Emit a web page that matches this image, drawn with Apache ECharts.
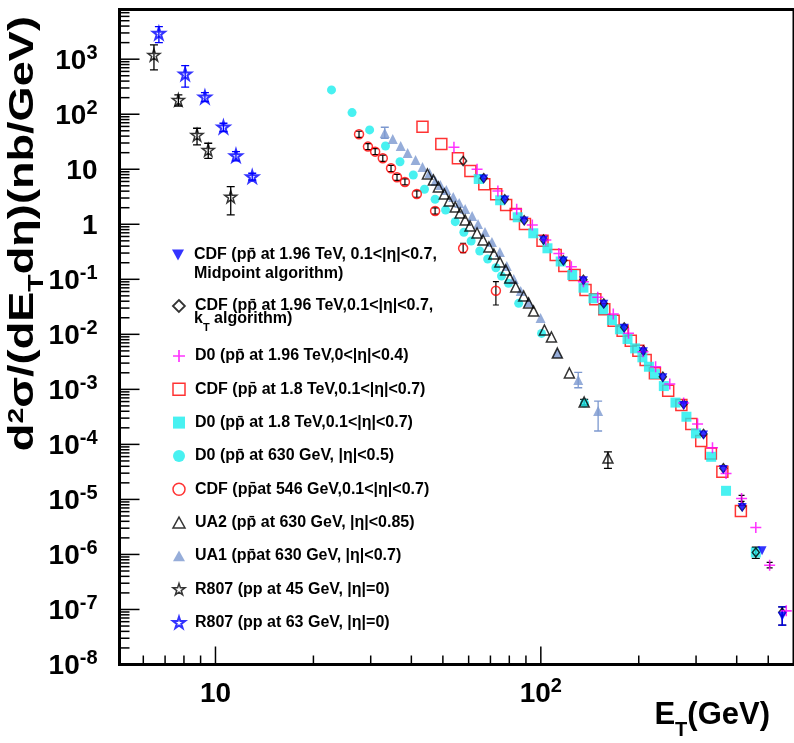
<!DOCTYPE html>
<html><head><meta charset="utf-8">
<script src="https://cdn.jsdelivr.net/npm/echarts@6/dist/echarts.min.js"></script>
<style>html,body{margin:0;padding:0;background:#fff}#c{width:794px;height:743px}</style>
</head><body><div id="c"></div>
<script>
// ---------- axis ranges & ticks ----------
const xMin = 5.07, xMax = 600, yMin = 1e-8, yMax = 8000;
const xTickValues = [10, 100];
const xTickLabels = ['{b|10}', '{b|10}{s|2}'];
const xMinorValues = [6, 7, 8, 9, 20, 30, 40, 50, 60, 70, 80, 90, 200, 300, 400, 500];
const yTickValues = [1e-8, 1e-7, 1e-6, 1e-5, 1e-4, 1e-3, 1e-2, 1e-1, 1, 10, 100, 1000];
const yTickLabels = ['{b|10}{s|-8}', '{b|10}{s|-7}', '{b|10}{s|-6}', '{b|10}{s|-5}', '{b|10}{s|-4}', '{b|10}{s|-3}',
  '{b|10}{s|-2}', '{b|10}{s|-1}', '{b|1}', '{b|10}', '{b|10}{s|2}', '{b|10}{s|3}'];
const yMinorMult = [2, 3, 4, 5, 6, 7, 8, 9];

// ---------- data (E_T [GeV], d2sigma/dEt deta [nb/GeV]) ----------
const cdfMidpoint = [[66.75,6.66],[77.52,2.766],[88.87,1.148],[101.9,0.512],[117.3,0.215],[135.2,0.0943],[156.1,0.0351],[180.4,0.01285],[206.6,0.00483],[237.1,0.001626],[274.8,0.000508],[316.2,0.0001476],[363.9,3.51e-5],[415.8,7.16e-6],[478.6,1.163e-6],[552.1,7.55e-8]];
const cdfMidpointErr = [[552.1,5.19e-8,1.114e-7]];
const cdfKt = [[57.7,14.16],[66.75,6.9],[77.5,2.85],[88.9,1.18],[101.9,0.53],[117.3,0.222],[135.2,0.098],[156.1,0.0365],[180.4,0.0134],[206.6,0.0051],[237.1,0.0017],[274.8,0.00054],[316.2,0.000155],[363.9,3.7e-5],[415.8,7.5e-6],[457.9,1.09e-6],[552.1,8.8e-8]];
const cdfKtErr = [[457.9,8.5e-7,1.35e-6],[552.1,5.18e-8,1.114e-7]];
const d0_196 = [[54.07,25.1],[63.68,10.0],[73.79,4.03],[84.3,1.874],[94.15,0.971],[103.6,0.518],[113.6,0.2933],[124.1,0.1695],[135.2,0.0904],[149.6,0.0471],[167.0,0.02339],[186.0,0.01043],[206.1,0.00483],[225.3,0.002576],[249.1,0.001249],[274.8,0.000564],[303.2,0.000234],[337.0,8.67e-5],[370.9,2.97e-5],[414.0,1.043e-5],[457.9,3.1e-6],[505.0,6.39e-7],[568.0,9.43e-8]];
const d0_196Err = [[414.0,0.92e-5,1.18e-5],[505.0,5.7e-7,7.2e-7]];
const cdf18 = [[43.28,59.5],[49.45,28.84],[55.61,15.85],[60.75,9.31],[67.03,5.34],[72.92,3.51],[78.24,2.244],[83.72,1.54],[89.37,1.013],[101.2,0.503],[111.1,0.2766],[118.1,0.1745],[127.0,0.1197],[137.2,0.0639],[147.1,0.04329],[156.7,0.02848],[167.4,0.01768],[178.4,0.01163],[189.0,0.00765],[199.5,0.00503],[210.0,0.00341],[224.2,0.001954],[246.3,0.000943],[270.4,0.000518],[290.1,0.000234],[311.2,0.0001148],[333.2,6.86e-5],[361.4,3.17e-5],[412.0,6.13e-6]];
const d0_18 = [[64.44,6.66],[74.99,2.732],[84.91,1.341],[94.8,0.686],[104.8,0.366],[115.1,0.2107],[124.9,0.1197],[135.2,0.0704],[145.1,0.04514],[155.6,0.02848],[165.4,0.0182],[175.0,0.01233],[184.7,0.00821],[194.9,0.00556],[205.2,0.00382],[214.9,0.002576],[224.2,0.001897],[238.8,0.001148],[259.3,0.000575],[280.2,0.000318],[299.8,0.0001585],[333.9,5.95e-5],[370.9,1.433e-5],[457.9,1.087e-6]];
const d0_630 = [[22.73,276.5],[26.29,107],[29.77,51.8],[33.31,26.5],[36.91,13.7],[40.55,7.88],[43.89,4.33],[47.32,2.85],[50.96,1.82],[54.57,1.115],[58.0,0.715],[61.07,0.497],[64.9,0.327],[68.66,0.234],[72.76,0.1625],[75.7,0.115],[79.55,0.0846],[85.5,0.0366],[100.5,0.0104],[136.2,0.000564]];
const cdf546 = [[27.62,43.3],[29.42,25.8],[30.96,20.9],[32.68,15.85],[34.64,10.4],[36.14,7.15],[38.22,5.88],[41.58,3.56],[47.32,1.746],[57.7,0.366],[72.76,0.062]];
const cdf546Err = [[27.62,38,49],[29.42,22.7,29.3],[30.96,18.4,23.8],[32.68,13.9,18.0],[34.64,9.1,11.8],[36.14,6.3,8.1],[38.22,5.2,6.7],[41.58,3.1,4.05],[47.32,1.53,1.99],[57.7,0.305,0.452],[72.76,0.0341,0.0904]];
const ua2 = [[44.82,8.21],[46.75,6.39],[48.43,4.77],[50.51,3.56],[52.31,2.65],[54.57,2.06],[56.5,1.605],[58.54,1.197],[60.6,0.931],[63.68,0.695],[66.42,0.518],[69.27,0.3866],[71.74,0.2884],[74.83,0.2063],[78.05,0.1476],[80.27,0.1056],[83.72,0.0724],[88.58,0.0497],[91.73,0.0371],[95.0,0.0265],[102.6,0.01198],[107.8,0.00893],[112.4,0.00457],[122.4,0.00198],[135.9,0.000588],[160.8,5.64e-5]];
const ua2Err = [[160.8,3.66e-5,7.34e-5],[135.9,0.00052,0.00066]];
const ua1 = [[33.14,45.7],[35.06,35.6],[37.09,26.5],[38.95,19.8],[41.21,14.8],[43.28,11.0],[45.46,8.57],[47.42,6.13],[49.11,5.18],[51.22,4.2],[53.8,3.14],[56.12,2.44],[58.54,1.90],[61.49,1.416],[64.12,1.01],[67.35,0.724],[70.74,0.477],[74.83,0.3135],[78.6,0.1745],[82.56,0.1013],[86.73,0.0613],[91.73,0.0387],[99.8,0.0198],[112.4,0.00457],[130.3,0.001476],[150.0,0.000403]];
const ua1Err = [[33.14,36.6,58],[130.3,0.00107,0.00204],[150.0,0.000175,0.000613]];
const r807_45 = [[6.47,1197],[7.69,182],[8.776,42],[9.50,22.4],[11.14,3.18]];
const r807_45Err = [[6.47,638,1820],[7.69,141,224],[8.776,27.7,55.6],[9.50,15.8,29.7],[11.14,1.48,4.83]];
const r807_63 = [[6.70,2970],[8.07,540],[9.28,206],[10.58,58.7],[11.56,17.7],[12.97,7.33]];
const r807_63Err = [[6.70,2003,3917],[8.07,310,765],[9.28,169,247],[10.58,48.3,68.6],[11.56,14.2,20.9],[12.97,6.38,8.46]];

// ---------- names ----------
const P = 'pp\u0304';
const N = {
  mid: 'CDF (' + P + ' at 1.96 TeV, 0.1<|η|<0.7,',
  kt: 'CDF (' + P + ' at 1.96 TeV,0.1<|η|<0.7,',
  d0196: 'D0 (' + P + ' at 1.96 TeV,0<|η|<0.4)',
  cdf18: 'CDF (' + P + ' at 1.8 TeV,0.1<|η|<0.7)',
  d018: 'D0 (' + P + ' at 1.8 TeV,0.1<|η|<0.7)',
  d0630: 'D0 (' + P + ' at 630 GeV, |η|<0.5)',
  cdf546: 'CDF (' + P + 'at 546 GeV,0.1<|η|<0.7)',
  ua2: 'UA2 (' + P + ' at 630 GeV, |η|<0.85)',
  ua1: 'UA1 (' + P + 'at 630 GeV, |η|<0.7)',
  r45: 'R807 (pp at 45 GeV, |η|=0)',
  r63: 'R807 (pp at 63 GeV, |η|=0)'
};

const FONT = '"Liberation Sans", Arial, Helvetica, sans-serif';
const STAR = 'path://M50,0 L61,35 L98,35 L68,57 L79,91 L50,70 L21,91 L32,57 L2,35 L39,35 Z';
const PLUS = 'path://M0,43 L100,43 L100,57 L0,57 Z M43,0 L57,0 L57,100 L43,100 Z';
const DOWN = 'path://M0,0 L100,0 L50,90 Z';
const UP = 'path://M50,0 L100,90 L0,90 Z';
const NONE = 'rgba(0,0,0,0)';
const UA1C = '#7c98cf';
const CYAN = '#1aeeee';

const richTick = {
  b: {fontFamily: FONT, fontWeight: 'bold', fontSize: 28, lineHeight: 32, verticalAlign: 'bottom', fill: '#000'},
  s: {fontFamily: FONT, fontWeight: 'bold', fontSize: 20, lineHeight: 20, verticalAlign: 'top', fill: '#000'}
};

function xTick(len) {
  return function (params, api) {
    const cs = params.coordSys;
    const p = api.coord([api.value(0), api.value(1)]);
    const yb = cs.y + cs.height;
    return {type: 'line', shape: {x1: p[0], y1: yb, x2: p[0], y2: yb - len}, style: {stroke: '#000', lineWidth: 1.5}};
  };
}
function yTick(len) {
  return function (params, api) {
    const cs = params.coordSys;
    const p = api.coord([api.value(0), api.value(1)]);
    return {type: 'line', shape: {x1: cs.x, y1: p[1], x2: cs.x + len, y2: p[1]}, style: {stroke: '#000', lineWidth: 1.5}};
  };
}
function xLabel(params, api) {
  const cs = params.coordSys;
  const p = api.coord([api.value(0), api.value(1)]);
  return {type: 'text', x: p[0], y: cs.y + cs.height + 12,
    style: {text: xTickLabels[params.dataIndex], align: 'center', verticalAlign: 'top', rich: richTick, fill: '#000'}};
}
function yLabel(params, api) {
  const cs = params.coordSys;
  const p = api.coord([api.value(0), api.value(1)]);
  return {type: 'text', x: cs.x - 22, y: p[1],
    style: {text: yTickLabels[params.dataIndex], align: 'right', verticalAlign: 'middle', rich: richTick, fill: '#000'}};
}
function errBar(color, cap, lw) {
  return function (params, api) {
    const x = api.value(0);
    const p1 = api.coord([x, api.value(1)]);
    const p2 = api.coord([x, api.value(2)]);
    const st = {stroke: color, lineWidth: lw || 1.3};
    return {type: 'group', children: [
      {type: 'line', shape: {x1: p1[0], y1: p1[1], x2: p2[0], y2: p2[1]}, style: st},
      {type: 'line', shape: {x1: p1[0] - cap, y1: p1[1], x2: p1[0] + cap, y2: p1[1]}, style: st},
      {type: 'line', shape: {x1: p2[0] - cap, y1: p2[1], x2: p2[0] + cap, y2: p2[1]}, style: st}
    ]};
  };
}

const yMinorValues = [];
for (let e = -8; e <= 3; e++) yMinorMult.forEach(k => { const v = k * Math.pow(10, e); if (v < yMax) yMinorValues.push(v); });

function custom(render, data, z) {
  return {type: 'custom', renderItem: render, data: data, clip: false, silent: true, z: z || 3,
    encode: {x: 0, y: 1}, animation: false};
}
function errSeries(data, color, cap, lw) {
  return {type: 'custom', renderItem: errBar(color, cap, lw), data: data, clip: true, silent: true,
    encode: {x: 0, y: [1, 2]}, animation: false};
}
function sc(name, data, symbol, size, itemStyle) {
  return {type: 'scatter', name: name, data: data, symbol: symbol, symbolSize: size, itemStyle: itemStyle,
    silent: true, animation: false, emphasis: {disabled: true}};
}

const legendCommon = {
  orient: 'vertical', left: 172, padding: 0, itemWidth: 12, itemHeight: 12, selectedMode: false,
  textStyle: {fontFamily: FONT, fontWeight: 'bold', fontSize: 16, color: '#000', lineHeight: 18, padding: [0, 0, 0, 5]}
};
const line2Style = {fontFamily: FONT, fontWeight: 'bold', fontSize: 16, fill: '#000'};

const chart = echarts.init(document.getElementById('c'), null, {renderer: 'canvas'});
chart.setOption({
  animation: false,
  backgroundColor: '#fff',
  grid: {left: 119.5, top: 9.5, width: 680, height: 655, show: true, borderColor: '#000', borderWidth: 3, backgroundColor: NONE},
  xAxis: {type: 'log', logBase: 10, min: xMin, max: xMax, axisLine: {show: false}, axisTick: {show: false},
    axisLabel: {show: false}, splitLine: {show: false}},
  yAxis: {type: 'log', logBase: 10, min: yMin, max: yMax, axisLine: {show: false}, axisTick: {show: false},
    axisLabel: {show: false}, splitLine: {show: false}},
  legend: [
    Object.assign({}, legendCommon, {top: 246, data: [
      {name: N.mid, icon: DOWN, itemStyle: {color: '#0000ff', borderWidth: 0}}]}),
    Object.assign({}, legendCommon, {top: 297, data: [
      {name: N.kt, icon: 'diamond', itemStyle: {color: NONE, borderColor: '#000', borderWidth: 1.8}}]}),
    Object.assign({}, legendCommon, {top: 347, itemGap: 15.3, data: [
      {name: N.d0196, icon: PLUS, itemStyle: {color: '#ff00ff', borderWidth: 0}},
      {name: N.cdf18, icon: 'rect', itemStyle: {color: NONE, borderColor: '#ff0000', borderWidth: 1.5}},
      {name: N.d018, icon: 'rect', itemStyle: {color: CYAN, borderWidth: 0}},
      {name: N.d0630, icon: 'circle', itemStyle: {color: CYAN, borderWidth: 0}},
      {name: N.cdf546, icon: 'circle', itemStyle: {color: NONE, borderColor: '#ff0000', borderWidth: 1.5}},
      {name: N.ua2, icon: UP, itemStyle: {color: NONE, borderColor: '#000', borderWidth: 1.5}},
      {name: N.ua1, icon: UP, itemStyle: {color: UA1C, borderWidth: 0}},
      {name: N.r45, icon: STAR, itemStyle: {color: NONE, borderColor: '#000', borderWidth: 1.5}},
      {name: N.r63, icon: STAR, itemStyle: {color: NONE, borderColor: '#0000ff', borderWidth: 2}}
    ]})
  ],
  graphic: [
    {type: 'text', x: 194, y: 274, silent: true,
      style: Object.assign({text: 'Midpoint algorithm)', verticalAlign: 'middle'}, line2Style)},
    {type: 'text', x: 194, y: 322, silent: true,
      style: {text: '{a|k}{u|T}{a| algorithm)}', verticalAlign: 'middle', rich: {
        a: {fontFamily: FONT, fontWeight: 'bold', fontSize: 16, lineHeight: 18, verticalAlign: 'top', fill: '#000'},
        u: {fontFamily: FONT, fontWeight: 'bold', fontSize: 11, lineHeight: 22, verticalAlign: 'bottom', fill: '#000'}}}},
    {type: 'text', x: 770, y: 720, silent: true,
      style: {text: '{a|E}{u|T}{a|(GeV)}', align: 'right', verticalAlign: 'middle', rich: {
        a: {fontFamily: FONT, fontWeight: 'bold', fontSize: 31, lineHeight: 33, verticalAlign: 'top', fill: '#000'},
        u: {fontFamily: FONT, fontWeight: 'bold', fontSize: 20, lineHeight: 40, verticalAlign: 'bottom', fill: '#000'}}}},
    {type: 'text', x: 27, y: 16, rotation: Math.PI / 2, scaleX: 1.29, silent: true,
      style: {text: '{a|d}{s|2}{a|σ/(dE}{u|T}{a|dη)(nb/GeV)}', align: 'right', verticalAlign: 'middle', rich: {
        a: {fontFamily: FONT, fontWeight: 'bold', fontSize: 35, lineHeight: 37, verticalAlign: 'top', fill: '#000'},
        s: {fontFamily: FONT, fontWeight: 'bold', fontSize: 22, lineHeight: 22, verticalAlign: 'top', fill: '#000'},
        u: {fontFamily: FONT, fontWeight: 'bold', fontSize: 22, lineHeight: 42, verticalAlign: 'bottom', fill: '#000'}}}}
  ],
  series: [
    custom(xTick(18), xTickValues.map(v => [v, 1])),
    custom(xTick(9), xMinorValues.map(v => [v, 1])),
    custom(yTick(20), yTickValues.map(v => [10, v])),
    custom(yTick(10), yMinorValues.map(v => [10, v])),
    custom(xLabel, xTickValues.map(v => [v, yMin])),
    custom(yLabel, yTickValues.map(v => [xMin, v])),

    sc(N.d0630, d0_630, 'circle', 9, {color: CYAN}),
    sc(N.ua1, ua1, UP, 10, {color: UA1C}),
    errSeries(ua1Err, UA1C, 4),
    sc(N.ua2, ua2, UP, 10, {color: NONE, borderColor: '#000', borderWidth: 1.5}),
    errSeries(ua2Err, '#000', 4),
    sc(N.cdf546, cdf546, 'circle', 9, {color: NONE, borderColor: '#ff0000', borderWidth: 1.5}),
    errSeries(cdf546Err, '#000', 3, 1.2),

    sc(N.cdf18, cdf18, 'rect', 11, {color: NONE, borderColor: '#ff0000', borderWidth: 1.5}),
    sc(N.d018, d0_18, 'rect', 10, {color: CYAN}),
    sc(N.kt, cdfKt, 'diamond', [7, 9], {color: NONE, borderColor: '#000', borderWidth: 1.5}),
    errSeries(cdfKtErr, '#000', 4),
    sc(N.d0196, d0_196, PLUS, 11, {color: '#ff00ff'}),
    errSeries(d0_196Err, '#000', 3),
    sc(N.mid, cdfMidpoint, DOWN, 9, {color: '#0000ff'}),
    errSeries(cdfMidpointErr, '#0000ff', 4),

    sc(N.r45, r807_45, STAR, 12, {color: NONE, borderColor: '#000', borderWidth: 1.5}),
    errSeries(r807_45Err, '#000', 4),
    sc(N.r63, r807_63, STAR, 12, {color: NONE, borderColor: '#0000ff', borderWidth: 2}),
    errSeries(r807_63Err, '#0000ff', 4)
  ]
});
</script></body></html>
